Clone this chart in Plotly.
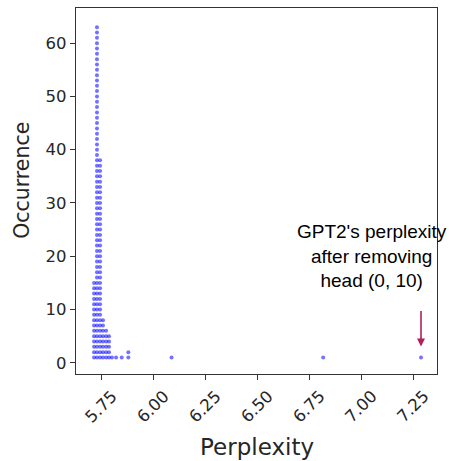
import plotly.graph_objects as go

# Data: distinct perplexity values and how often each occurs
perplexity = [5.714, 5.728, 5.743, 5.757, 5.772, 5.786, 5.800, 5.820, 5.847, 5.879, 6.087, 6.817, 7.288]
occurrence = [15, 63, 38, 8, 6, 5, 1, 1, 1, 2, 1, 1, 1]

x_tick_vals = [5.75, 6.00, 6.25, 6.50, 6.75, 7.00, 7.25]
x_tick_text = ["5.75", "6.00", "6.25", "6.50", "6.75", "7.00", "7.25"]
y_tick_vals = [0, 10, 20, 30, 40, 50, 60]

annotation_text = "GPT2's perplexity<br>after removing<br>head (0, 10)"

# Dot plot: one dot per occurrence, stacked
xs, ys = [], []
for p, c in zip(perplexity, occurrence):
    for k in range(1, c + 1):
        xs.append(p)
        ys.append(k)

fig = go.Figure()
fig.add_trace(go.Scatter(
    x=xs, y=ys, mode="markers",
    marker=dict(size=4, color="blue", opacity=0.55, line=dict(width=0)),
    showlegend=False, hoverinfo="skip",
))

axis_common = dict(
    showline=True, linecolor="#333333", linewidth=1.2, mirror=True,
    showgrid=False, zeroline=False,
    ticks="outside", ticklen=5, tickwidth=1, tickcolor="#333333",
    tickfont=dict(family="DejaVu Sans", size=16.5, color="#262626"),
)

fig.update_xaxes(range=[5.627, 7.365], tickvals=x_tick_vals,
                 ticktext=["" for _ in x_tick_text], **axis_common)
fig.update_yaxes(range=[-2.1, 66.6], tickvals=y_tick_vals, **axis_common)

annotations = []
# rotated x tick labels, centred on the ticks
for v, t in zip(x_tick_vals, x_tick_text):
    annotations.append(dict(
        x=v, xref="x", y=-0.09, yref="paper", text=t, showarrow=False,
        textangle=-45, xanchor="center", yanchor="middle",
        font=dict(family="DejaVu Sans", size=16.5, color="#262626"),
    ))
# axis titles
annotations.append(dict(
    x=0.5, xref="paper", y=-0.2, yref="paper", text="Perplexity", showarrow=False,
    xanchor="center", yanchor="middle",
    font=dict(family="DejaVu Sans", size=23, color="#262626"),
))
annotations.append(dict(
    x=-0.15, xref="paper", y=0.53, yref="paper", text="Occurrence", showarrow=False,
    textangle=-90, xanchor="center", yanchor="middle",
    font=dict(family="DejaVu Sans", size=20.5, color="#262626"),
))
# text label
annotations.append(dict(
    x=7.05, xref="x", y=20.0, yref="y", text=annotation_text, showarrow=False,
    xanchor="center", yanchor="middle", align="center",
    font=dict(family="Liberation Sans", size=19, color="black"),
))
# arrow pointing at the last point
annotations.append(dict(
    x=perplexity[-1], xref="x", y=occurrence[-1], yref="y", text="",
    showarrow=True, arrowhead=2, arrowsize=1, arrowwidth=1.6, arrowcolor="#B2205A",
    ax=0, ay=-48, standoff=11,
))

fig.update_layout(
    width=449, height=461,
    margin=dict(l=76, r=12, t=8, b=87),
    plot_bgcolor="white", paper_bgcolor="white",
    annotations=annotations,
)

fig.write_html("out.html", config={"displayModeBar": False},
               post_script="document.body.style.margin='0px';")
